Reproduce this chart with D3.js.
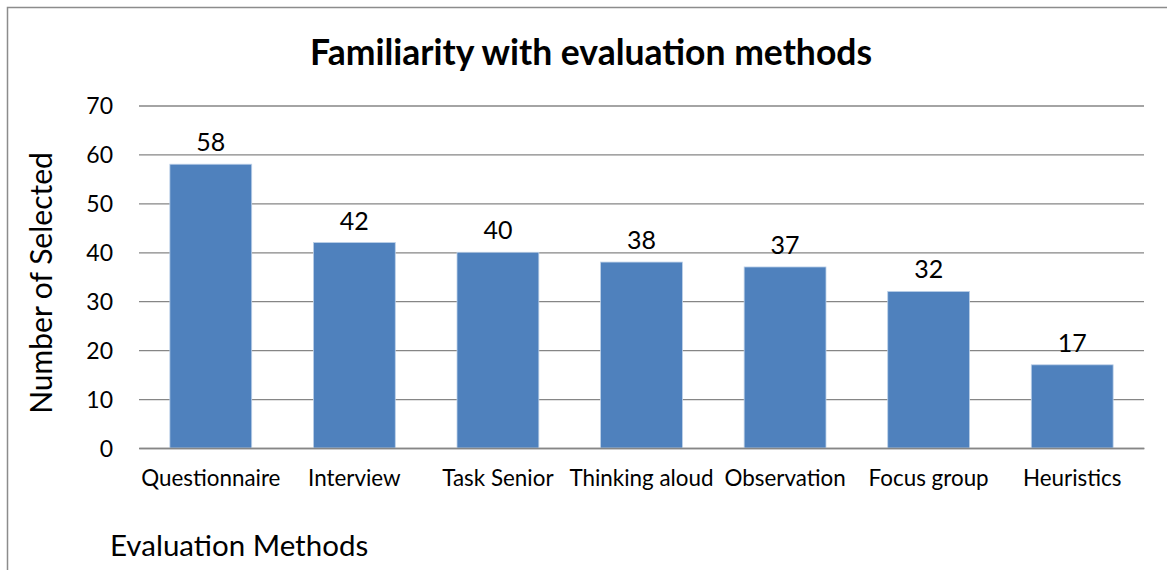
<!DOCTYPE html>
<html>
<head>
<meta charset="utf-8">
<script src="https://cdn.jsdelivr.net/npm/d3@7"></script>
<style>
  html, body { margin: 0; padding: 0; background: #fff; }
  svg { display: block; }
  svg text { font-family: Lato, "Open Sans", sans-serif; }
</style>
</head>
<body>
<svg id="chart" width="1167" height="570"></svg>
<script>
// Survey results: how many respondents selected each evaluation method
const categories = ["Questionnaire", "Interview", "Task Senior", "Thinking aloud", "Observation", "Focus group", "Heuristics"];
const counts = [58, 42, 40, 38, 37, 32, 17];
const yTicks = [0, 10, 20, 30, 40, 50, 60, 70];

const titleText = "Familiarity with evaluation methods";
const yAxisTitle = "Number of Selected";
const xAxisTitle = "Evaluation Methods";

const svg = d3.select("#chart");
const W = 1167, H = 570;

// Outer chart frame
svg.append("rect")
  .attr("x", 7.5).attr("y", 7.5)
  .attr("width", W + 10).attr("height", H + 10)
  .attr("fill", "#fff")
  .attr("stroke", "#8c8c8c")
  .attr("stroke-width", 1.5);

const plot = { left: 139, right: 1144, top: 105.5, bottom: 448 };

const x = d3.scaleBand()
  .domain(categories)
  .range([plot.left, plot.right])
  .paddingInner(0.43)
  .paddingOuter(0.215);

const y = d3.scaleLinear()
  .domain([0, 70])
  .range([plot.bottom, plot.top]);

// Horizontal gridlines with tick labels on the left
const yAxis = d3.axisLeft(y)
  .tickValues(yTicks)
  .tickSize(-(plot.right - plot.left))
  .tickPadding(26)
  .tickFormat(d3.format("d"));

const gy = svg.append("g")
  .attr("transform", `translate(${plot.left},0)`)
  .call(yAxis)
  .attr("font-family", null)
  .attr("font-size", null);
gy.select(".domain").remove();
gy.selectAll(".tick line")
  .attr("stroke", "#868686")
  .attr("stroke-width", 1.3);
gy.selectAll(".tick text")
  .attr("fill", "#000")
  .style("font-size", "23px")
  .attr("dy", "0.36em");

// Bars
svg.append("g")
  .selectAll("rect")
  .data(counts)
  .join("rect")
  .attr("x", (d, i) => x(categories[i]))
  .attr("y", d => y(d))
  .attr("width", x.bandwidth())
  .attr("height", d => y(0) - y(d))
  .attr("fill", "#4f81bd")
  .attr("stroke", "#bcd0e8")
  .attr("stroke-width", 0.8);

// Value labels above the bars
svg.append("g")
  .selectAll("text")
  .data(counts)
  .join("text")
  .attr("x", (d, i) => x(categories[i]) + x.bandwidth() / 2)
  .attr("y", d => y(d) - 13)
  .attr("text-anchor", "middle")
  .style("font-size", "25px")
  .attr("fill", "#000")
  .text(d => d);

// Category labels along the bottom
const xAxis = d3.axisBottom(x).tickSize(0).tickPadding(22);
const gx = svg.append("g")
  .attr("transform", `translate(0,${plot.bottom})`)
  .call(xAxis)
  .attr("font-family", null)
  .attr("font-size", null);
gx.select(".domain")
  .attr("stroke", "#868686")
  .attr("stroke-width", 1.3);
gx.selectAll(".tick text")
  .attr("fill", "#000")
  .style("font-size", "22.4px");

// Titles
svg.append("text")
  .attr("x", 591).attr("y", 65)
  .attr("text-anchor", "middle")
  .style("font-size", "35.5px")
  .style("font-weight", "bold")
  .attr("fill", "#000")
  .text(titleText);

svg.append("text")
  .attr("transform", "translate(52,283) rotate(-90)")
  .attr("text-anchor", "middle")
  .style("font-size", "30px")
  .attr("fill", "#000")
  .text(yAxisTitle);

svg.append("text")
  .attr("x", 110).attr("y", 556)
  .style("font-size", "29.5px")
  .attr("fill", "#000")
  .text(xAxisTitle);
</script>
</body>
</html>
